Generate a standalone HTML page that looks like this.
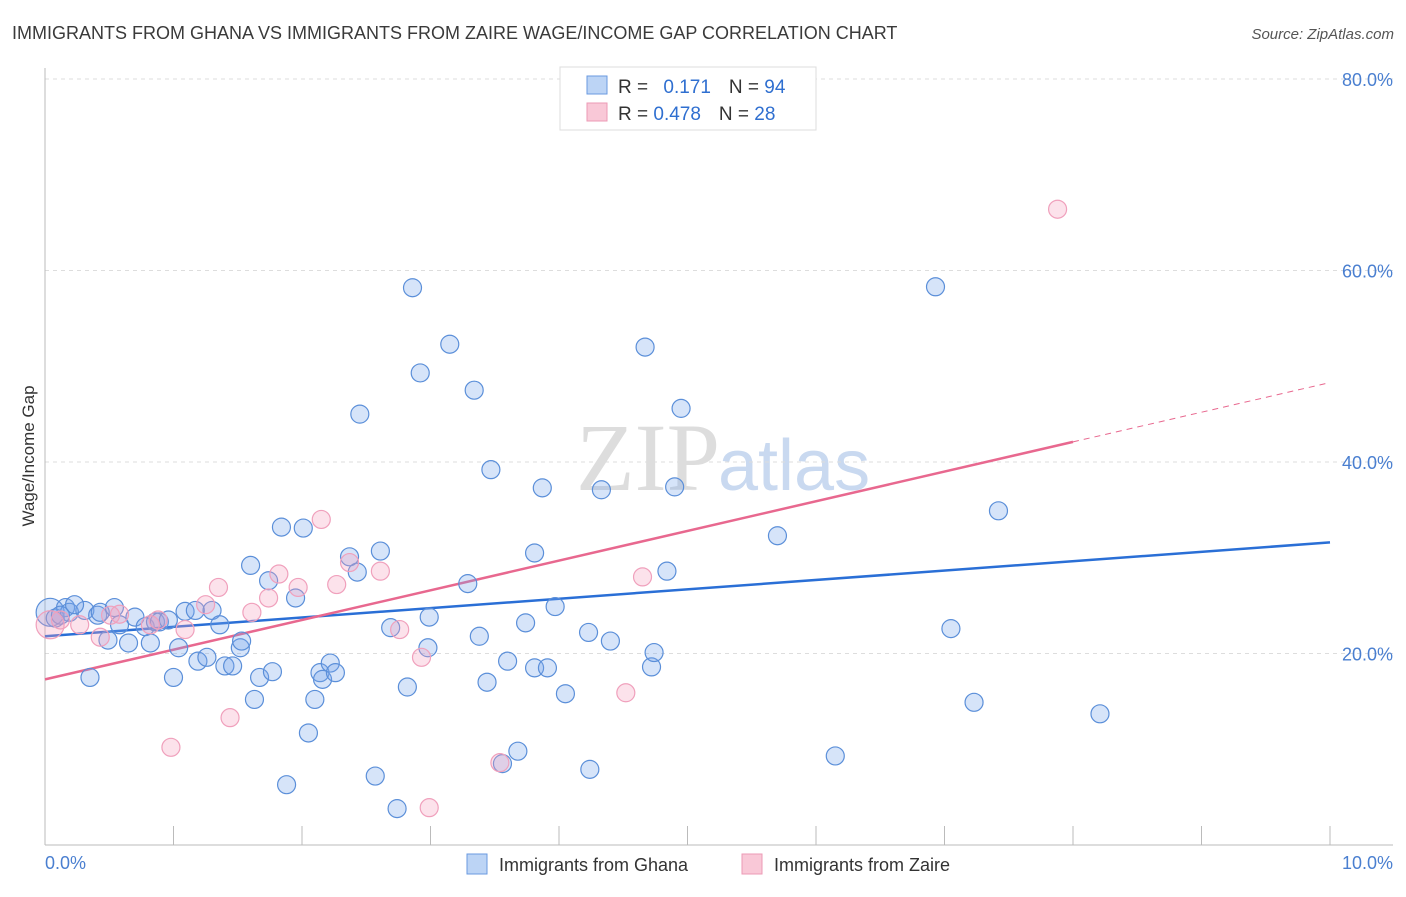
<!DOCTYPE html>
<html><head><meta charset="utf-8"><style>
body{margin:0;background:#fff;font-family:"Liberation Sans",sans-serif;}
</style></head><body>
<svg width="1406" height="892" xmlns="http://www.w3.org/2000/svg" style="font-family:'Liberation Sans',sans-serif">
<text x="12" y="39" font-size="18" fill="#3a3a3a">IMMIGRANTS FROM GHANA VS IMMIGRANTS FROM ZAIRE WAGE/INCOME GAP CORRELATION CHART</text>
<text x="1394" y="39" font-size="15" fill="#555" text-anchor="end" font-style="italic">Source: ZipAtlas.com</text>
<text x="720" y="490" font-size="96" fill="#ddd" text-anchor="end" font-family="Liberation Serif">ZIP</text>
<text x="718" y="490" font-size="72" fill="#c9d9f0">atlas</text>
<g id="grid"></g><g id="axes"></g><g id="lines"></g><g id="pts"></g>
<text transform="translate(34,456) rotate(-90)" font-size="17" fill="#333" text-anchor="middle">Wage/Income Gap</text>
<text x="45" y="869" font-size="18" fill="#4a7fd0">0.0%</text>
<text x="1393" y="869" font-size="18" fill="#4a7fd0" text-anchor="end">10.0%</text>
<g>
<rect x="560" y="67" width="256" height="63" fill="#fff" stroke="#ddd"/>
<rect x="587" y="76" width="20" height="18" fill="#bcd4f5" stroke="#6a9ae0"/>
<rect x="587" y="103" width="20" height="18" fill="#f9c8d7" stroke="#ec9ab5"/>
<text x="618" y="93" font-size="19" fill="#333">R = <tspan fill="#2f6fd0" dx="10">0.171</tspan><tspan dx="18" fill="#333">N = </tspan><tspan fill="#2f6fd0">94</tspan></text>
<text x="618" y="120" font-size="19" fill="#333">R = <tspan fill="#2f6fd0">0.478</tspan><tspan dx="18" fill="#333">N = </tspan><tspan fill="#2f6fd0">28</tspan></text>
</g>
<g>
<rect x="467" y="854" width="20" height="20" fill="#bcd4f5" stroke="#6a9ae0"/>
<text x="499" y="871" font-size="18" fill="#333">Immigrants from Ghana</text>
<rect x="742" y="854" width="20" height="20" fill="#f9c8d7" stroke="#ec9ab5"/>
<text x="774" y="871" font-size="18" fill="#333">Immigrants from Zaire</text>
</g>
</svg>
<script>
const yTicks=[20,40,60,80];
const xTickCount=10;
const ghanaX=[0.04,0.08,0.16,0.19,0.31,0.41,0.43,0.49,0.54,0.58,0.65,0.70,0.78,0.82,0.86,0.89,0.96,1.04,1.00,1.09,1.17,1.19,1.26,1.30,1.36,1.40,1.46,1.52,1.53,1.60,1.63,1.67,1.74,1.77,1.84,1.88,1.95,2.01,2.05,2.10,2.14,2.16,2.22,2.26,2.37,2.43,2.45,2.57,2.61,2.69,2.74,2.82,2.86,2.92,2.98,2.99,3.15,3.29,3.34,3.38,3.44,3.47,3.56,3.60,3.68,3.74,3.81,3.81,3.87,3.91,3.97,4.05,4.23,4.24,4.33,4.40,4.67,4.72,4.74,4.84,4.90,4.95,5.70,6.15,6.93,7.05,7.23,7.42,8.21,0.35,0.12,0.23];
const ghanaY=[24.3,23.7,24.8,24.3,24.5,24.0,24.3,21.4,24.8,23.0,21.1,23.8,22.8,21.1,23.3,23.3,23.5,20.6,17.5,24.4,24.5,19.2,19.6,24.5,23.0,18.7,18.7,20.6,21.3,29.2,15.2,17.5,27.6,18.1,33.2,6.3,25.8,33.1,11.7,15.2,18.0,17.3,19.0,18.0,30.1,28.5,45.0,7.2,30.7,22.7,3.8,16.5,58.2,49.3,20.6,23.8,52.3,27.3,47.5,21.8,17.0,39.2,8.5,19.2,9.8,23.2,30.5,18.5,37.3,18.5,24.9,15.8,22.2,7.9,37.1,21.3,52.0,18.6,20.1,28.6,37.4,45.6,32.3,9.3,58.3,22.6,14.9,34.9,13.7,17.5,24.0,25.1];
const zaireX=[0.04,0.12,0.43,0.58,0.82,0.88,0.98,1.09,1.25,1.35,1.44,1.61,1.74,1.82,1.97,2.15,2.27,2.37,2.61,2.76,2.93,3.54,2.99,4.52,4.65,7.88,0.27,0.51];
const zaireY=[23.0,23.5,21.7,24.1,23.0,23.5,10.2,22.5,25.1,26.9,13.3,24.3,25.8,28.3,26.9,34.0,27.2,29.5,28.6,22.5,19.6,8.6,3.9,15.9,28.0,66.4,23.0,24.0];
const ghanaTrend=[21.8,31.6];
const zaireTrend=[17.3,48.3];
const zaireSolidEnd=8.0;
const NS='http://www.w3.org/2000/svg';
const X=v=>45+v*128.5, Y=v=>845-v*9.575;
function mk(p,t,a){const e=document.createElementNS(NS,t);for(const k in a)e.setAttribute(k,a[k]);document.getElementById(p).appendChild(e);return e;}
yTicks.forEach(t=>{
 const l=mk('grid','line',{x1:45,x2:1393,y1:Y(t),y2:Y(t),stroke:'#ddd','stroke-dasharray':'4,4'});
 
 
 const tx=mk('grid','text',{x:1393,y:Y(t)+7,'font-size':18,fill:'#4a7fd0','text-anchor':'end'});
 tx.textContent=t.toFixed(1)+'%';
 
 
});
let ax=mk('axes','line',{x1:45,x2:45,y1:68,y2:845,stroke:'#bbb'});


ax=mk('axes','line',{x1:45,x2:1393,y1:845,y2:845,stroke:'#bbb'});


for(let i=1;i<=xTickCount;i++){const t=mk('axes','line',{x1:X(i),x2:X(i),y1:826,y2:845,stroke:'#bbb'});
 
 }
ghanaX.forEach((x,i)=>{const c=mk('pts','circle',{cx:X(x),cy:Y(ghanaY[i]),r:i==0?14:9,fill:'rgba(120,165,235,0.3)',stroke:'#5b8fd9','stroke-width':1.2});
 
 });
zaireX.forEach((x,i)=>{const c=mk('pts','circle',{cx:X(x),cy:Y(zaireY[i]),r:i==0?14:9,fill:'rgba(245,160,190,0.3)',stroke:'#f0a0bc','stroke-width':1.2});
 
 });
let l=mk('lines','line',{x1:X(0),y1:Y(ghanaTrend[0]),x2:X(10),y2:Y(ghanaTrend[1]),stroke:'#2a6fd6','stroke-width':2.5});


const zy=zaireTrend[0]+(zaireTrend[1]-zaireTrend[0])*zaireSolidEnd/10;
l=mk('lines','line',{x1:X(0),y1:Y(zaireTrend[0]),x2:X(zaireSolidEnd),y2:Y(zy),stroke:'#e8688f','stroke-width':2.5});


l=mk('lines','line',{x1:X(zaireSolidEnd),y1:Y(zy),x2:X(10),y2:Y(zaireTrend[1]),stroke:'#e8688f','stroke-width':1,'stroke-dasharray':'6,5'});


</script>
</body></html>
